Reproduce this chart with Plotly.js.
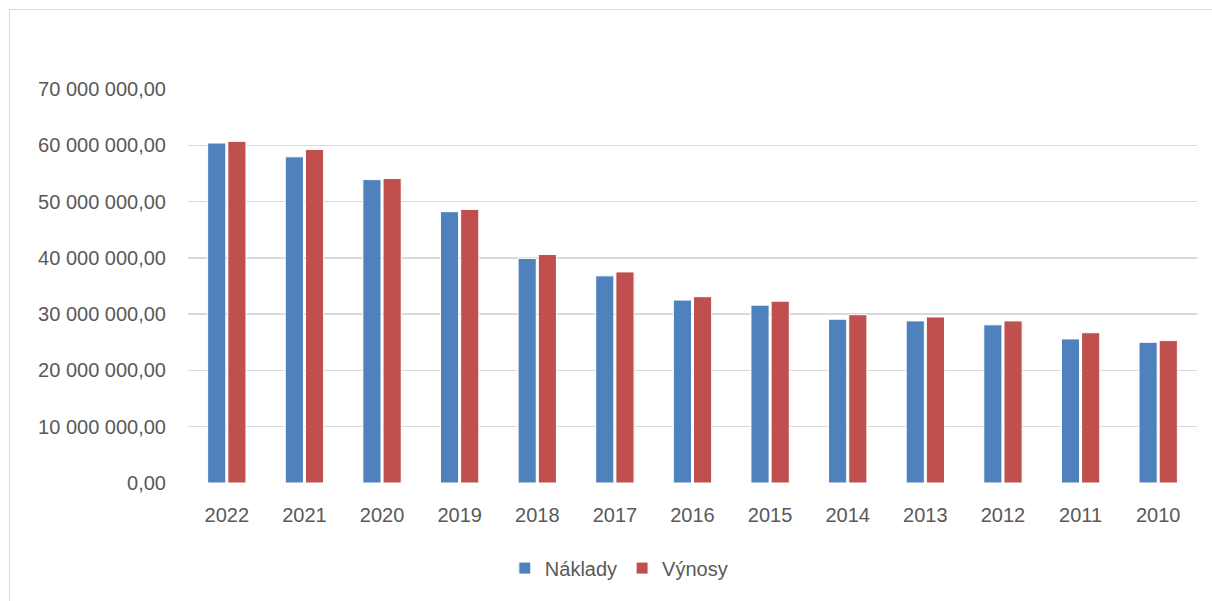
<!DOCTYPE html>
<html>
<head>
<meta charset="utf-8">
<script src="https://cdn.plot.ly/plotly-3.0.1.min.js"></script>
<style>
  html, body { margin: 0; padding: 0; background: #fff; }
  #wrap { position: relative; width: 1212px; height: 601px; overflow: hidden; }
  #chart { position: absolute; left: 0; top: 0; width: 1212px; height: 601px; }
  #frame { position: absolute; left: 9px; top: 9px; width: 1220px; height: 610px; border: 1px solid #D9D9D9; pointer-events: none; }
</style>
</head>
<body>
<div id="wrap">
  <div id="chart"></div>
  <div id="frame"></div>
</div>
<script>
const years = ["2022","2021","2020","2019","2018","2017","2016","2015","2014","2013","2012","2011","2010"];
const naklady = [60400000, 57950000, 53900000, 48200000, 39900000, 36800000, 32500000, 31600000, 29100000, 28800000, 28100000, 25600000, 25000000];
const vynosy  = [60700000, 59250000, 54100000, 48600000, 40600000, 37500000, 33100000, 32300000, 29900000, 29500000, 28800000, 26700000, 25300000];
const yTicks = [0, 10000000, 20000000, 30000000, 40000000, 50000000, 60000000, 70000000];
const yTickText = ["0,00", "10 000 000,00", "20 000 000,00", "30 000 000,00", "40 000 000,00", "50 000 000,00", "60 000 000,00", "70 000 000,00"];

const font = "Liberation Sans, Arial, sans-serif";
const traces = [
  { type: "bar", name: "Náklady", x: years, y: naklady,
    marker: { color: "#4F81BD", line: { color: "#FFFFFF", width: 1 } } },
  { type: "bar", name: "Výnosy", x: years, y: vynosy,
    marker: { color: "#C0504D", line: { color: "#FFFFFF", width: 1 } } }
];
const layout = {
  width: 1212, height: 601,
  margin: { l: 188, r: 15, t: 89, b: 118 },
  paper_bgcolor: "rgba(0,0,0,0)", plot_bgcolor: "#FFFFFF",
  barmode: "group", bargap: 0.48, bargroupgap: 0.1,
  font: { family: font, size: 20, color: "#595959" },
  showlegend: true,
  legend: { orientation: "h", x: 0.314, xanchor: "left", y: -0.216, yanchor: "middle",
            font: { family: font, size: 20, color: "#595959" }, traceorder: "normal" },
  xaxis: { type: "category", showgrid: false, showline: false, zeroline: false,
           ticks: "", ticklabelstandoff: 18, tickfont: { family: font, size: 20, color: "#595959" } },
  yaxis: { range: [0, 70000000], tickvals: yTicks, ticktext: yTickText,
           showgrid: true, gridcolor: "#D9D9D9", gridwidth: 1.5, zeroline: false, showline: false,
           ticks: "", ticklabelstandoff: 21, tickfont: { family: font, size: 20, color: "#595959" } },
  hovermode: false
};
Plotly.newPlot("chart", traces, layout, { displayModeBar: false, staticPlot: true });
</script>
</body>
</html>
